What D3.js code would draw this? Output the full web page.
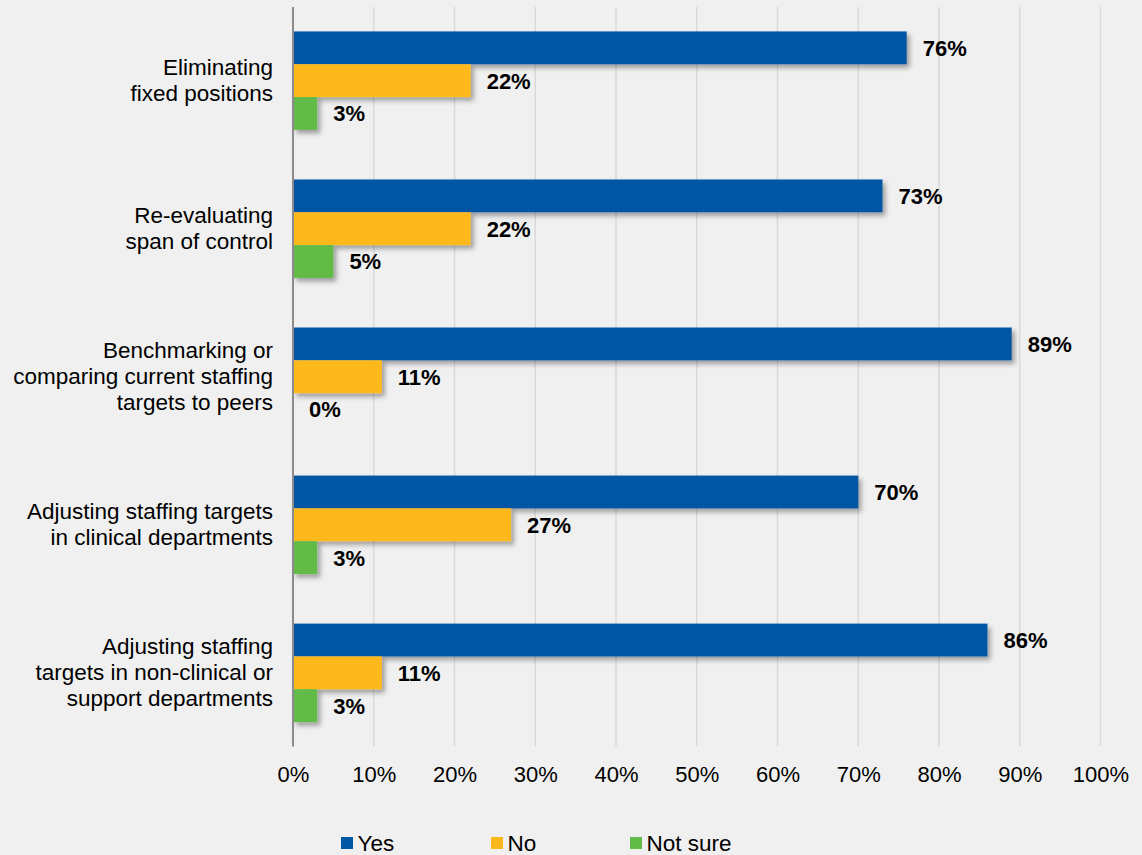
<!DOCTYPE html>
<html>
<head>
<meta charset="utf-8">
<script src="https://cdn.jsdelivr.net/npm/d3@7"></script>
<style>
  html, body { margin: 0; padding: 0; background: #f0f0f0; }
  svg { display: block; font-family: "Liberation Sans", Arial, sans-serif; }
</style>
</head>
<body>
<svg id="chart" width="1142" height="855"></svg>
<script>
// Survey categories (each label split into its display lines)
const categories = [
  ["Eliminating", "fixed positions"],
  ["Re-evaluating", "span of control"],
  ["Benchmarking or", "comparing current staffing", "targets to peers"],
  ["Adjusting staffing targets", "in clinical departments"],
  ["Adjusting staffing", "targets in non-clinical or", "support departments"]
];
const seriesNames = ["Yes", "No", "Not sure"];
const yesValues = [76, 73, 89, 70, 86];
const noValues = [22, 22, 11, 27, 11];
const notSureValues = [3, 5, 0, 3, 3];
const seriesColors = ["#0057a3", "#fdb81b", "#63bb47"];
const tickValues = [0, 10, 20, 30, 40, 50, 60, 70, 80, 90, 100];

const seriesValues = [yesValues, noValues, notSureValues];
const catKeys = categories.map(c => c.join(" "));

const svg = d3.select("#chart");
const W = 1142, H = 855;
svg.append("rect").attr("width", W).attr("height", H).attr("fill", "#f0f0f0");

const plot = { left: 293, right: 1100.5, top: 7, bottom: 746.5 };

const x = d3.scaleLinear().domain([0, 100]).range([plot.left, plot.right]);
const y0 = d3.scaleBand().domain(catKeys).range([plot.top, plot.bottom])
  .paddingInner(0.335).paddingOuter(0.165);
const y1 = d3.scaleBand().domain(seriesNames).range([0, y0.bandwidth()]);
const color = d3.scaleOrdinal().domain(seriesNames).range(seriesColors);

// soft drop shadow under the bars
const defs = svg.append("defs");
const f = defs.append("filter").attr("id", "shadow")
  .attr("x", "-10%").attr("y", "-30%").attr("width", "130%").attr("height", "180%");
f.append("feDropShadow").attr("dx", 3).attr("dy", 3.5).attr("stdDeviation", 2.5)
  .attr("flood-color", "#000").attr("flood-opacity", 0.35);

// vertical gridlines
svg.append("g").selectAll("line")
  .data(tickValues.filter(t => t > 0))
  .join("line")
  .attr("x1", d => x(d)).attr("x2", d => x(d))
  .attr("y1", plot.top).attr("y2", plot.bottom)
  .attr("stroke", "#d9d9d9").attr("stroke-width", 1.5);

// x-axis tick labels
const xAxis = d3.axisBottom(x).tickValues(tickValues).tickSize(0).tickPadding(0)
  .tickFormat(d => d + "%");
const xg = svg.append("g").attr("transform", `translate(0,${plot.bottom})`).call(xAxis);
xg.select(".domain").remove();
xg.selectAll("text")
  .attr("y", 0).attr("dy", null)
  .attr("transform", "translate(0,35.5)")
  .attr("font-size", "22px").attr("fill", "#000")
  .attr("font-family", "'Liberation Sans', Arial, sans-serif");

// bars
const rows = [];
catKeys.forEach((c, i) => {
  seriesNames.forEach((s, j) => rows.push({ cat: c, series: s, value: seriesValues[j][i] }));
});

const bars = svg.append("g").attr("filter", "url(#shadow)");
bars.selectAll("rect")
  .data(rows.filter(d => d.value > 0))
  .join("rect")
  .attr("x", x(0))
  .attr("y", d => y0(d.cat) + y1(d.series))
  .attr("width", d => x(d.value) - x(0))
  .attr("height", y1.bandwidth())
  .attr("fill", d => color(d.series));

// value labels
svg.append("g").selectAll("text")
  .data(rows)
  .join("text")
  .attr("x", d => x(d.value) + 16)
  .attr("y", d => y0(d.cat) + y1(d.series) + y1.bandwidth() / 2)
  .attr("dy", "0.36em")
  .attr("font-size", "22px").attr("font-weight", "bold").attr("fill", "#000")
  .text(d => d.value + "%");

// y axis line
svg.append("line")
  .attr("x1", x(0)).attr("x2", x(0))
  .attr("y1", plot.top).attr("y2", plot.bottom)
  .attr("stroke", "#8c8c8c").attr("stroke-width", 2);

// category labels
const lineH = 26;
const catG = svg.append("g");
categories.forEach((lines, i) => {
  const cy = y0(catKeys[i]) + y0.bandwidth() / 2;
  const t = catG.append("text")
    .attr("text-anchor", "end")
    .attr("font-size", "22.5px").attr("fill", "#000");
  lines.forEach((ln, k) => {
    t.append("tspan")
      .attr("x", 273)
      .attr("y", cy + (k - (lines.length - 1) / 2) * lineH + 7.5)
      .text(ln);
  });
});

// legend
const legendX = [341, 491, 630];
const lg = svg.append("g");
seriesNames.forEach((s, i) => {
  lg.append("rect").attr("x", legendX[i]).attr("y", 837)
    .attr("width", 12).attr("height", 12).attr("fill", color(s));
  lg.append("text").attr("x", legendX[i] + 16.5).attr("y", 850.5)
    .attr("font-size", "22.5px").attr("fill", "#000").text(s);
});
</script>
</body>
</html>
